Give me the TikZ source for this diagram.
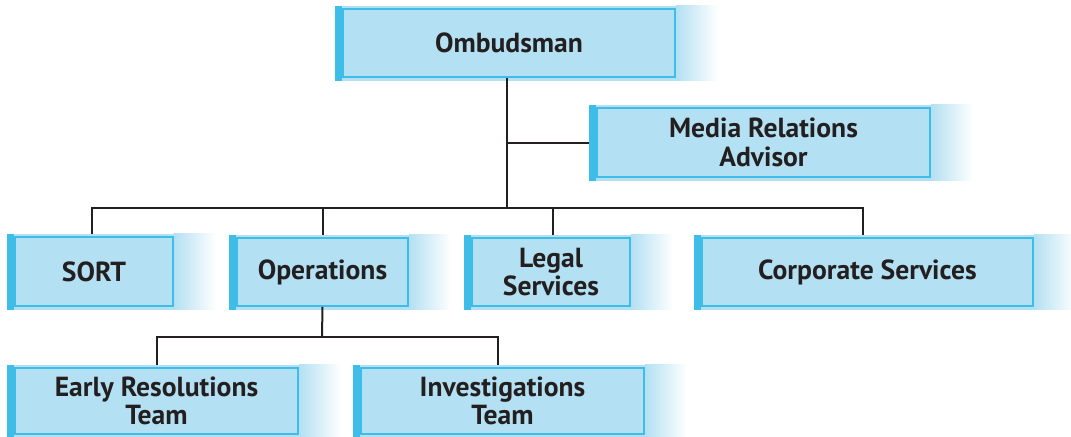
\documentclass[tikz,border=0pt]{standalone}
\usepackage{fontspec}
\setmainfont{PT Sans}
\usepackage{xcolor}
\usetikzlibrary{positioning, backgrounds}

\definecolor{boxfill}{HTML}{B3E0F2}
\definecolor{boxedge}{HTML}{3EBDE8}
\definecolor{inkline}{HTML}{231F20}

\begin{document}
\begin{tikzpicture}[
            x=0.5pt, y=-0.5pt,
            unit/.style={rectangle, draw=boxedge, line width=0.9pt, fill=boxfill, text=inkline, align=center, inner sep=0pt,
                font=\fontsize{13.8}{14.2}\selectfont\bfseries},
            link/.style={draw=inkline, line width=1pt}
        ]
            \useasboundingbox (0,0) rectangle (1071,436);

            \node[unit, minimum width=166pt, minimum height=34pt] (omb) at (509,43) {Ombudsman};
            \node[unit, minimum width=166.5pt, minimum height=34.5pt] (media) at (763.5,142.5) {Media Relations\\Advisor};
            \node[unit, minimum width=79pt, minimum height=34.5pt] (sort) at (94,271.5) {SORT};
            \node[unit, minimum width=85.5pt, minimum height=34pt] (ops) at (322.5,272) {Operations};
            \node[unit, minimum width=79pt, minimum height=34pt] (legal) at (551,272) {Legal\\Services};
            \node[unit, minimum width=165.5pt, minimum height=34pt] (corp) at (867.5,272) {Corporate Services};
            \node[unit, minimum width=141.5pt, minimum height=33pt] (early) at (156.5,401) {Early Resolutions\\Team};
            \node[unit, minimum width=141.5pt, minimum height=33pt] (inv) at (502.5,401) {Investigations\\Team};

            \coordinate (hub) at (507,208);
            \coordinate (subhub) at (322,337);

            % backing strips
            \begin{scope}[on background layer]
                \foreach \n in {omb,media,sort,ops,legal,corp,early,inv}{
                    \fill[boxfill] ([shift={(-3.5pt,1.25pt)}]\n.north west) rectangle ([yshift=-1.5pt]\n.south east);
                    \shade[left color=boxfill, right color=white] ([yshift=1.25pt]\n.north east) rectangle ([shift={(21pt,-1.5pt)}]\n.south east);
                    \fill[boxedge] ([shift={(-3.5pt,1.25pt)}]\n.north west) rectangle ([yshift=-1.5pt]\n.south west);
                }
            \end{scope}

            \draw[link] (omb.south -| hub) -- (hub);
            \draw[link] (hub |- media.west) -- ([xshift=-3.5pt]media.west);
            \draw[link] ([shift={(-1pt,1pt)}]sort.north) |- (hub) -| ([shift={(-2.25pt,1pt)}]corp.north);
            \draw[link] ([yshift=1pt]ops.north) -- (ops.north |- hub);
            \draw[link] ([shift={(1pt,1pt)}]legal.north) -- ([xshift=1pt]legal.north |- hub);

            \draw[link] (ops.south) -- (subhub);
            \draw[link] ([yshift=1pt]early.north) |- (subhub) -| ([shift={(-2.25pt,1pt)}]inv.north);
        \end{tikzpicture}
\end{document}
